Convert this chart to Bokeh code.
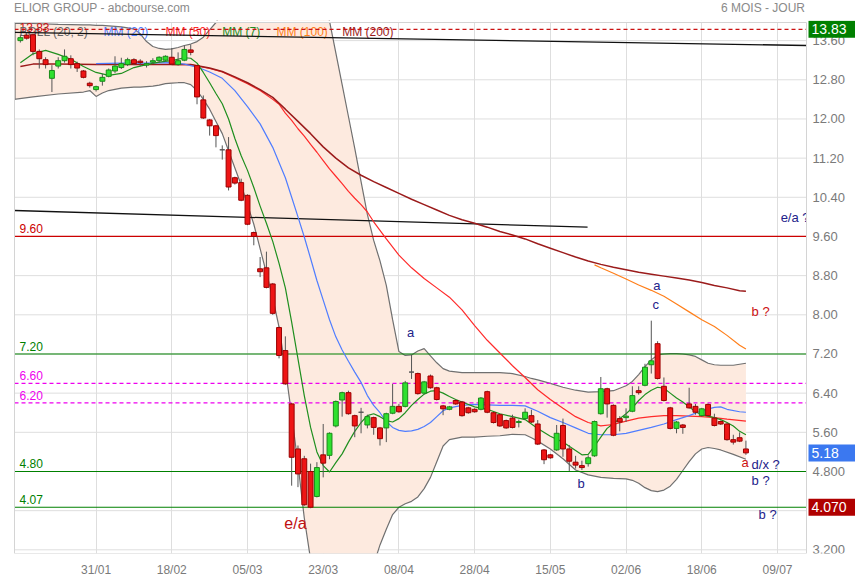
from bokeh.plotting import figure
from bokeh.models import Range1d, FixedTicker, Div
from bokeh.layouts import column
from bokeh.core.properties import value
from bokeh.embed import file_html
from bokeh.resources import INLINE
import numpy as np

# ---------------- data ----------------
date_ticks = [12, 24, 36, 48, 60, 72, 84, 96, 108, 120]
date_labels = ["31/01", "18/02", "05/03", "23/03", "08/04", "28/04", "15/05", "02/06", "18/06", "09/07"]

price_ticks = [3.2, 4.0, 4.8, 5.6, 6.4, 7.2, 8.0, 8.8, 9.6, 10.4, 11.2, 12.0, 12.8, 13.6]
price_labels = ["3.200", "4.000", "4.800", "5.60", "6.40", "7.20", "8.00", "8.80", "9.60",
                "10.40", "11.20", "12.00", "12.80", "13.60"]

opens = [13.60, 13.71, 13.72, 13.38, 13.21, 12.83, 13.08, 13.19, 13.23, 13.13,
         12.98, 12.73, 12.60, 12.77, 12.87, 12.98, 13.05, 13.11, 13.21, 13.18,
         13.10, 13.16, 13.19, 13.20, 13.26, 13.11, 13.20, 13.41, 13.09, 12.39,
         11.98, 11.86, 11.37, 11.37, 10.80, 10.70, 10.44, 9.68, 8.94, 8.96,
         8.63, 7.74, 7.27, 6.18, 5.26, 5.06, 4.80, 4.29, 5.14, 5.13,
         5.73, 6.26, 6.41, 5.94, 6.01, 5.75, 5.90, 5.69, 5.69, 5.99,
         6.13, 6.13, 6.83, 6.80, 6.40, 6.75, 6.51, 6.14, 6.07, 6.25,
         6.22, 6.10, 6.07, 6.07, 6.43, 6.00, 5.96, 5.84, 5.89, 5.80,
         5.88, 5.94, 5.77, 5.24, 5.14, 5.24, 5.74, 5.26, 4.99, 4.92,
         4.96, 5.12, 5.98, 6.49, 6.15, 5.88, 5.90, 6.03, 6.45, 6.56,
         6.98, 7.41, 6.54, 6.10, 5.68, 5.75, 6.18, 6.13, 5.94, 6.17,
         5.89, 5.82, 5.77, 5.45, 5.49, 5.26]
highs = [13.72, 13.74, 13.74, 13.42, 13.26, 13.10, 13.26, 13.42, 13.30, 13.17,
         13.00, 12.76, 12.68, 12.92, 13.03, 13.28, 13.25, 13.25, 13.24, 13.22,
         13.18, 13.24, 13.28, 13.30, 13.45, 13.36, 13.50, 13.52, 13.10, 12.48,
         12.00, 11.88, 11.46, 11.63, 10.82, 10.78, 10.46, 9.70, 9.18, 9.29,
         8.65, 7.76, 7.56, 6.20, 5.33, 5.12, 4.96, 4.99, 5.77, 5.60,
         6.25, 6.43, 6.45, 5.96, 6.10, 5.96, 5.92, 5.71, 6.00, 6.59,
         6.18, 6.65, 7.18, 6.82, 6.65, 6.78, 6.53, 6.16, 6.14, 6.27,
         6.24, 6.12, 6.09, 6.32, 6.45, 6.02, 5.98, 5.86, 5.96, 5.86,
         6.09, 6.06, 5.85, 5.26, 5.16, 5.75, 5.88, 5.34, 5.12, 5.02,
         5.13, 5.84, 6.73, 6.51, 6.17, 5.93, 6.09, 6.54, 6.54, 7.00,
         7.88, 7.46, 6.72, 6.12, 5.83, 5.77, 6.51, 6.18, 6.10, 6.19,
         5.98, 5.84, 5.79, 5.55, 5.60, 5.43]
lows = [13.56, 13.62, 13.30, 13.03, 13.03, 12.55, 13.03, 13.15, 13.03, 12.96,
        12.83, 12.64, 12.56, 12.68, 12.85, 12.94, 13.02, 13.08, 13.10, 13.08,
        13.05, 13.12, 13.15, 13.17, 13.10, 13.09, 13.18, 13.30, 12.30, 12.00,
        11.66, 11.42, 11.17, 10.54, 10.66, 10.32, 9.83, 9.42, 8.77, 8.54,
        8.00, 7.11, 6.57, 4.51, 4.48, 4.10, 4.05, 4.27, 4.68, 5.05,
        5.70, 5.92, 5.96, 5.50, 5.58, 5.68, 5.55, 5.33, 5.40, 5.97,
        6.00, 6.11, 6.69, 6.37, 6.38, 6.49, 6.25, 5.95, 6.05, 6.16,
        5.92, 5.98, 6.00, 6.05, 5.99, 5.78, 5.71, 5.67, 5.68, 5.70,
        5.86, 5.79, 5.34, 4.95, 5.06, 5.22, 5.10, 4.81, 4.86, 4.83,
        4.90, 5.10, 5.96, 5.90, 5.52, 5.62, 5.81, 6.01, 6.37, 6.54,
        6.80, 6.68, 6.23, 5.66, 5.58, 5.57, 6.08, 5.96, 5.92, 5.92,
        5.72, 5.75, 5.43, 5.35, 5.40, 5.14]
closes = [13.66, 13.65, 13.38, 13.23, 13.11, 12.99, 13.19, 13.28, 13.11, 13.04,
          12.85, 12.68, 12.66, 12.85, 13.00, 13.08, 13.13, 13.21, 13.13, 13.15,
          13.13, 13.19, 13.26, 13.28, 13.12, 13.19, 13.42, 13.36, 12.45, 12.02,
          11.86, 11.66, 11.37, 10.61, 10.69, 10.34, 9.85, 9.60, 8.88, 8.56,
          8.03, 7.17, 6.59, 5.09, 4.75, 4.12, 4.07, 4.88, 4.97, 5.58,
          6.23, 6.41, 5.98, 5.73, 6.01, 5.92, 5.70, 5.47, 5.98, 6.13,
          6.02, 6.61, 6.83, 6.39, 6.63, 6.51, 6.27, 6.08, 6.12, 6.18,
          5.94, 6.00, 6.02, 6.30, 6.01, 5.80, 5.73, 5.69, 5.70, 5.82,
          6.01, 5.81, 5.36, 5.04, 5.08, 5.58, 5.26, 5.01, 4.93, 4.88,
          5.08, 5.82, 6.49, 6.18, 5.54, 5.81, 5.93, 6.35, 6.41, 6.93,
          7.06, 6.70, 6.25, 5.68, 5.81, 5.70, 6.10, 6.01, 6.08, 5.94,
          5.74, 5.77, 5.45, 5.40, 5.42, 5.18]

# moving averages (day index, value)
mm7_x = [0, 2, 4, 6, 8, 10, 12, 14, 16, 18, 20, 22, 24, 26, 27, 28, 29, 30, 31, 32, 33, 34, 35,
         36, 37, 38, 39, 40, 41, 42, 43, 44, 45, 46, 47, 48, 49, 50, 51, 52, 53, 54, 55, 56, 57,
         58, 59, 60, 61, 62, 63, 64, 65, 66, 67, 68, 69, 70, 72, 74, 76, 78, 80, 82, 84, 86, 88,
         89, 90, 91, 92, 93, 94, 95, 96, 97, 98, 99, 100, 101, 102, 103, 104, 105, 106, 107, 108,
         109, 110, 111, 112, 113, 114, 115]
mm7_y = [13.15, 13.33, 13.40, 13.32, 13.22, 13.07, 12.95, 12.89, 12.93, 13.05, 13.11, 13.16,
         13.19, 13.25, 13.24, 13.14, 12.95, 12.74, 12.52, 12.31, 12.00, 11.60, 11.25, 10.95,
         10.60, 10.22, 9.87, 9.50, 9.05, 8.55, 7.85, 7.10, 6.35, 5.70, 5.20, 4.92, 4.79, 4.98,
         5.16, 5.40, 5.62, 5.80, 5.94, 5.98, 5.92, 5.84, 5.81, 5.88, 6.00, 6.15, 6.27, 6.38,
         6.44, 6.45, 6.40, 6.33, 6.27, 6.22, 6.12, 6.07, 5.98, 5.92, 5.86, 5.68, 5.52, 5.40,
         5.23, 5.14, 5.15, 5.32, 5.50, 5.68, 5.78, 5.88, 5.98, 6.10, 6.25, 6.37, 6.46, 6.52,
         6.50, 6.40, 6.30, 6.22, 6.12, 6.02, 5.96, 5.93, 5.90, 5.86, 5.80, 5.73, 5.62, 5.55]

mm20_x = [12, 16, 20, 24, 26, 28, 30, 32, 34, 36, 38, 40, 42, 43, 44, 45, 46, 47, 48,
          49, 50, 51, 52, 53, 54, 55, 56, 57, 58, 59, 60, 61, 62, 63, 64, 65, 66, 67, 68, 70, 72,
          74, 76, 78, 80, 82, 84, 86, 88, 90, 92, 94, 96, 98, 100, 102, 104, 106, 108, 110, 111,
          112, 114, 115]
mm20_y = [13.13, 13.14, 13.14, 13.15, 13.12, 13.06, 12.96, 12.83, 12.58,
          12.25, 11.90, 11.42, 10.80, 10.40, 10.00, 9.59, 9.15, 8.70, 8.30, 7.90, 7.55, 7.28,
          7.05, 6.83, 6.62, 6.35, 6.15, 6.00, 5.82, 5.70, 5.64, 5.62, 5.63, 5.66, 5.72, 5.80,
          5.92, 6.04, 6.10, 6.15, 6.17, 6.16, 6.15, 6.15, 6.14, 6.03, 5.90, 5.80, 5.69, 5.58,
          5.55, 5.55, 5.58, 5.64, 5.70, 5.77, 5.86, 5.94, 6.04, 6.11, 6.12, 6.07, 6.02, 6.01]

mm50_x = [24, 27, 30, 32, 34, 36, 38, 40, 41, 42, 43, 44, 45, 46, 47, 48, 49, 50, 51, 52,
          53, 54, 55, 56, 58, 60, 62, 64, 66, 68, 70, 72, 74, 76, 78, 80, 82, 84, 86, 88, 90, 92,
          94, 96, 98, 100, 102, 104, 106, 108, 110, 112, 115]
mm50_y = [13.11, 13.11, 13.03, 12.96, 12.84, 12.72, 12.58, 12.40, 12.30, 12.12,
          11.97, 11.80, 11.65, 11.48, 11.32, 11.15, 10.98, 10.83, 10.68, 10.52, 10.38, 10.25,
          10.10, 9.90, 9.55, 9.22, 8.96, 8.74, 8.55, 8.36, 8.10, 7.78, 7.48, 7.22, 6.96, 6.72,
          6.47, 6.27, 6.09, 5.92, 5.80, 5.73, 5.76, 5.83, 5.89, 5.92, 5.94, 5.94, 5.93, 5.92,
          5.90, 5.87, 5.83]

mm100_x = [91, 92, 94, 96, 98, 100, 102, 104, 106, 108, 110, 112, 114, 115]
mm100_y = [9.02, 8.96, 8.85, 8.73, 8.61, 8.50, 8.38, 8.22, 8.06, 7.90, 7.76, 7.58, 7.38, 7.30]

mm200_x = [0, 2, 6, 12, 20, 27, 30, 32, 34, 36, 38, 40, 42, 44, 46, 48, 50, 52, 54, 56, 58, 60,
           62, 64, 66, 68, 70, 72, 74, 76, 78, 80, 82, 84, 86, 88, 90, 92, 94, 96, 98, 100, 102,
           104, 106, 108, 110, 112, 114, 115]
mm200_y = [13.07, 13.12, 13.12, 13.11, 13.11, 13.11, 13.04, 12.97, 12.86, 12.74, 12.60, 12.44,
           12.20, 11.95, 11.70, 11.43, 11.20, 11.00, 10.85, 10.72, 10.60, 10.48, 10.36, 10.25,
           10.14, 10.03, 9.94, 9.87, 9.79, 9.70, 9.63, 9.55, 9.45, 9.36, 9.27, 9.18, 9.10, 9.03,
           8.97, 8.92, 8.87, 8.83, 8.79, 8.75, 8.71, 8.66, 8.60, 8.55, 8.49, 8.48]

# Bollinger (20; 2)
band_x = [-1, 2, 6, 10, 11, 12, 13, 14, 16, 18, 19, 20, 21, 22, 23, 24, 25, 26, 27, 28, 29, 30,
          31, 32, 33, 34, 35, 36, 37, 38, 39, 40, 41, 42, 43, 44, 45, 46, 47, 48, 49, 50, 51, 52,
          53, 54, 55, 56, 57, 58, 59, 60, 61, 62, 63, 64, 65, 66, 67, 68, 70, 72, 74, 76, 78, 80,
          81, 82, 84, 86, 88, 90, 92, 94, 96, 97, 98, 99, 100, 101, 102, 103, 104, 105, 106, 107,
          108, 109, 110, 111, 113, 115]
band_upper = [13.95, 13.95, 13.93, 13.92, 13.92, 13.91, 13.91, 13.90, 13.88, 13.84, 13.74, 13.58,
              13.48, 13.44, 13.42, 13.43, 13.46, 13.50, 13.53, 13.58, 13.67, 13.82, 13.97, 14.20,
              14.50, 14.80, 15.05, 15.30, 15.50, 15.70, 15.80, 15.90, 15.92, 15.90, 15.85, 15.70,
              15.50, 15.20, 14.90, 14.45, 14.00, 13.35, 12.70, 12.05, 11.40, 10.72, 10.05, 9.52,
              9.10, 8.60, 7.90, 7.25, 7.17, 7.18, 7.26, 7.31, 7.16, 7.02, 6.90, 6.85, 6.82, 6.82,
              6.82, 6.82, 6.80, 6.74, 6.70, 6.67, 6.60, 6.52, 6.46, 6.42, 6.43, 6.45, 6.55, 6.64,
              6.78, 6.94, 7.08, 7.18, 7.20, 7.21, 7.21, 7.20, 7.18, 7.15, 7.08, 7.01, 6.98, 6.97,
              6.97, 7.01]
band_lower = [12.40, 12.45, 12.51, 12.55, 12.58, 12.46, 12.53, 12.58, 12.63, 12.65, 12.65, 12.66,
              12.67, 12.69, 12.72, 12.73, 12.74, 12.74, 12.70, 12.58, 12.40, 12.20, 11.95, 11.70,
              11.35, 11.00, 10.65, 10.25, 9.85, 9.35, 8.85, 8.35, 7.75, 6.90, 5.95, 4.95, 3.85,
              3.00, 2.40, 2.00, 1.75, 1.60, 1.55, 1.60, 1.75, 2.00, 2.40, 2.90, 3.30, 3.62, 3.92,
              4.07, 4.14, 4.19, 4.28, 4.45, 4.68, 5.00, 5.32, 5.45, 5.50, 5.50, 5.52, 5.53, 5.56,
              5.55, 5.49, 5.42, 5.26, 5.06, 4.83, 4.73, 4.68, 4.66, 4.65, 4.62, 4.56, 4.47, 4.41,
              4.39, 4.42, 4.50, 4.64, 4.82, 5.00, 5.16, 5.26, 5.29, 5.27, 5.24, 5.15, 5.05]

# drawn trend lines (day index, price)
trend1_x = [-0.93, 124.6]
trend1_y = [13.77, 13.50]
trend2_x = [-0.93, 89.9]
trend2_y = [10.13, 9.79]

# horizontal levels
top_level = 13.83
levels = [9.60, 7.20, 6.60, 6.20, 4.80, 4.07]
level_texts = ["9.60", "7.20", "6.60", "6.20", "4.80", "4.07"]

last_close = 5.18
support = 4.07

# wave labels: (day index, price, text)
wave_navy = [(61.3, 7.63, "a"), (88.3, 4.55, "b"), (100.3, 8.60, "a"), (100.2, 8.21, "c"),
             (120.5, 9.99, "e/a ?"), (115.9, 4.94, "d/x ?"), (115.9, 4.62, "b ?"), (117.0, 3.92, "b ?")]
wave_red = [(115.9, 8.07, "b ?"), (114.3, 4.98, "a")]
wave_big = (43.6, 3.74, "e/a")

legend_items = ["BOLL (20; 2)", "MM (20)", "MM (50)", "MM (7)", "MM (100)", "MM (200)"]
title_text = "ELIOR GROUP - abcbourse.com"
period_text = "6 MOIS - JOUR"

# ---------------- styling / layout ----------------
X0, X1 = -0.93, 124.6          # price area in day-index units
Y0, Y1 = 3.125, 13.97
W = 855
HEAD = 20                        # header strip height (px)
PAD_T = 2                        # blank strip above the price area inside the figure (px)
H = 580 - HEAD
BB = 27                          # room for the date labels
PW = 792                         # price-area width (px)
PAD_L = 14                       # blank strip left of the price area (px)
FH = H - BB - PAD_T
ppx = PW / (X1 - X0)
ppy = FH / (Y1 - Y0)
XL = X0 - PAD_L / ppx
XR = XL + W / ppx
YT = Y1 + PAD_T / ppy

FONT = "Liberation Sans"
NAVY = "#22228a"
RED_T = "#cc1111"
GREEN_L = "#008000"
MAGENTA = "#ee00ee"
GRID = "#dedede"

header = Div(
    text=('<div style="display:flex;justify-content:space-between;width:%dpx;'
          'padding:1px 0 0 %dpx;box-sizing:border-box;font-family:\'%s\';font-size:12px;'
          'line-height:14px;color:#8a8a8a;">'
          '<span>%s</span><span style="margin-right:%dpx">%s</span></div>')
    % (W, PAD_L, FONT, title_text, W - PAD_L - PW + 1, period_text),
    width=W, height=HEAD, margin=(0, 0, 0, 0))

p = figure(width=W, height=H, output_backend="svg", toolbar_location=None,
           x_range=Range1d(XL, XR), y_range=Range1d(Y0, YT),
           y_axis_location=None, min_border_left=0, min_border_right=0,
           min_border_top=0, min_border_bottom=BB, margin=(0, 0, 0, 0))
p.background_fill_color = "white"
p.border_fill_color = "white"
p.outline_line_color = None

xa = p.below[0]
xa.ticker = FixedTicker(ticks=date_ticks)
xa.major_label_overrides = {t: l for t, l in zip(date_ticks, date_labels)}
xa.axis_line_color = None
xa.major_tick_line_color = None
xa.minor_tick_line_color = None
xa.major_tick_out = 0
xa.major_tick_in = 0
xa.major_label_text_color = "#7a7a7a"
xa.major_label_standoff = 9
xa.major_label_text_font = "Liberation Sans Narrow, Arial Narrow, Liberation Sans"
xa.major_label_text_font_size = "12px"
p.xgrid.grid_line_color = GRID
p.ygrid.grid_line_color = None

# horizontal grid
n = len(price_ticks)
p.segment(x0=[X0] * n, y0=price_ticks, x1=[X1] * n, y1=price_ticks, line_color=GRID, line_width=1)

# Bollinger band
p.varea(x=band_x, y1=band_lower, y2=band_upper, fill_color="#fdeadf", fill_alpha=1.0)
p.line(band_x, band_upper, line_color="#707070", line_width=1.2)
p.line(band_x, band_lower, line_color="#707070", line_width=1.2)
edge_lo = float(np.interp(X0, band_x, band_lower))
edge_hi = float(np.interp(X0, band_x, band_upper))
p.segment(x0=[X0 + 0.08], y0=[edge_lo], x1=[X0 + 0.08], y1=[edge_hi], line_color="#707070", line_width=1.2)

# top-level label (inside the price area, behind the legend row)
p.text(x=[-0.14], y=[Y1 - 0.5 / ppy], text=["%.2f" % top_level], text_color="#cc1111",
       text_font=value(FONT), text_font_size="12px", text_baseline="top", text_align="left")

# legend row
leg_x = [-0.14, 13.17, 23.0, 32.0, 40.6, 51.0]
leg_colors = ["#666666", "#4f7dff", "#ff2a2a", "#1f8f1f", "#ff7f1a", "#9b1b1b"]
p.text(x=leg_x, y=[13.77] * len(leg_x), text=legend_items, text_color=leg_colors,
       text_font=value(FONT), text_font_size="12px", text_baseline="middle", text_align="left")

# level lines
p.line([X0, X1], [top_level, top_level], line_color="#cc1111", line_dash="4 3", line_width=1.1)
lvl_colors = ["#cc0000", GREEN_L, MAGENTA, MAGENTA, GREEN_L, GREEN_L]
lvl_dash = ["solid", "solid", "4 3", "4 3", "solid", "solid"]
for v, c, d in zip(levels, lvl_colors, lvl_dash):
    p.line([X0, X1], [v, v], line_color=c, line_dash=d, line_width=1.2)
lbl_x = -0.14
p.text(x=[lbl_x] * len(levels), y=[v + 3 / ppy for v in levels], text=level_texts,
       text_color=lvl_colors, text_font=value(FONT), text_font_size="12px",
       text_baseline="bottom", text_align="left")

# trend lines
p.line(trend1_x, trend1_y, line_color="#111111", line_width=1.3)
p.line(trend2_x, trend2_y, line_color="#111111", line_width=1.3)

# moving averages
p.line(mm50_x, mm50_y, line_color="#ff2a2a", line_width=1.2)
p.line(mm200_x, mm200_y, line_color="#9b1b1b", line_width=1.5)
p.line(mm20_x, mm20_y, line_color="#4f7dff", line_width=1.2)
p.line(mm100_x, mm100_y, line_color="#ff7f1a", line_width=1.2)
p.line(mm7_x, mm7_y, line_color="#1f8f1f", line_width=1.2)

# candles
idx = list(range(len(closes)))
fill = ["#2ee02e" if c > o else ("#ee1515" if c < o else "#555555") for o, c in zip(opens, closes)]
edge = ["#1a8a1a" if c > o else ("#9a0000" if c < o else "#555555") for o, c in zip(opens, closes)]
p.segment(x0=idx, y0=lows, x1=idx, y1=highs, line_color="#555555", line_width=1)
p.vbar(x=idx, width=0.78, top=[max(o, c) for o, c in zip(opens, closes)],
       bottom=[min(o, c) for o, c in zip(opens, closes)], fill_color=fill, line_color=edge, line_width=1)

# wave labels
p.text(x=[w[0] for w in wave_navy], y=[w[1] for w in wave_navy], text=[w[2] for w in wave_navy],
       text_color=NAVY, text_font=value(FONT), text_font_size="13px", text_baseline="middle",
       text_align="left")
p.text(x=[w[0] for w in wave_red], y=[w[1] for w in wave_red], text=[w[2] for w in wave_red],
       text_color=RED_T, text_font=value(FONT), text_font_size="13px", text_baseline="middle",
       text_align="left")
p.text(x=[wave_big[0]], y=[wave_big[1]], text=[wave_big[2]], text_color="#c01010",
       text_font=value(FONT), text_font_size="16px", text_baseline="middle", text_align="center")

# blank margins around the price area
p.quad(left=[XL, X1, XL], right=[X0, XR, XR], bottom=[Y0, Y0, Y1], top=[YT, YT, YT],
       fill_color="white", line_color=None)
# price-area border
p.line([X0, X1, X1, X0, X0], [Y1, Y1, Y0, Y0, Y1], line_color="#d4d4d4", line_width=1)

# price scale on the right
p.text(x=[X1 + 6 / ppx] * n, y=price_ticks, text=price_labels, text_color="#7a7a7a",
       text_font=value(FONT), text_font_size="13px", text_baseline="middle", text_align="left")

# price boxes
box_vals = [top_level, last_close, support]
box_text = ["%.2f" % top_level, "%.2f" % last_close, "%.3f" % support]
box_cols = ["#008000", "#3b78f0", "#b00000"]
p.quad(left=[X1 + 2 / ppx] * 3, right=[XR] * 3,
       top=[v + 8.5 / ppy for v in box_vals], bottom=[v - 8.5 / ppy for v in box_vals],
       fill_color=box_cols, line_color=None)
p.text(x=[X1 + 5 / ppx] * 3, y=box_vals, text=box_text, text_color="white",
       text_font=value(FONT), text_font_size="14px", text_baseline="middle", text_align="left")

page = column(header, p, spacing=0, margin=(0, 0, 0, 0))
open("out.html", "w").write(file_html(page, INLINE))
